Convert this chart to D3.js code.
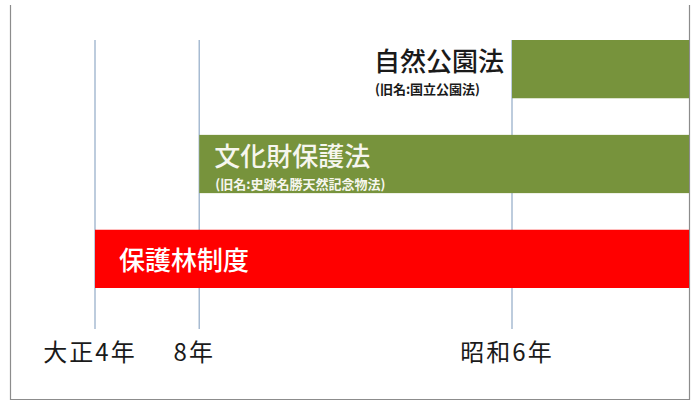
<!DOCTYPE html>
<html>
<head>
<meta charset="utf-8">
<script src="https://cdn.jsdelivr.net/npm/d3@7"></script>
<style>
  html, body { margin: 0; padding: 0; background: #fff; }
  svg { display: block; font-family: "Noto Sans CJK JP", "Noto Sans", sans-serif; }
</style>
</head>
<body>
<div id="app"></div>
<script>
// laws, top row first
const laws = ['自然公園法', '文化財保護法', '保護林制度'];
const formerNames = ['(旧名:国立公園法)', '(旧名:史跡名勝天然記念物法)', ''];
const startYears = [1931, 1919, 1915];
const barColors = ['#77933c', '#77933c', '#ff0000'];

// axis ticks (大正4年 = 1915, 大正8年 = 1919, 昭和6年 = 1931)
const tickYears = [1915, 1919, 1931];
const tickLabels = ['大正4年', '8年', '昭和6年'];

const WIDTH = 691;
const HEIGHT = 401;

const frame = { left: 10.5, right: 689.5, top: 5, bottom: 399.5 };

const svg = d3.select('#app')
  .append('svg')
  .attr('width', WIDTH)
  .attr('height', HEIGHT);

const x = d3.scaleLinear()
  .domain([1915, 1931])
  .range([95, 512]);

const y = d3.scaleBand()
  .domain(laws)
  .range([40, 288])
  .paddingInner(0.386)
  .paddingOuter(0);

const barEnd = frame.right - 0.5;

// frame (no top edge)
svg.append('path')
  .attr('d', `M${frame.left},${frame.top}V${frame.bottom}H${frame.right}V${frame.top}`)
  .attr('fill', 'none')
  .attr('stroke', '#8c8c8c')
  .attr('stroke-width', 1.2);

// year lines
svg.selectAll('line.year')
  .data(tickYears)
  .enter()
  .append('line')
  .attr('class', 'year')
  .attr('x1', d => x(d))
  .attr('x2', d => x(d))
  .attr('y1', 40)
  .attr('y2', 329)
  .attr('stroke', '#a7bbd2')
  .attr('stroke-width', 1.5);

const rows = laws.map((name, i) => ({
  name,
  former: formerNames[i],
  start: startYears[i],
  color: barColors[i]
}));

const row = svg.selectAll('g.row')
  .data(rows)
  .enter()
  .append('g')
  .attr('class', 'row');

row.append('rect')
  .attr('x', d => x(d.start))
  .attr('y', d => y(d.name))
  .attr('width', d => barEnd - x(d.start))
  .attr('height', y.bandwidth())
  .attr('fill', d => d.color);

// labels: inside the bar unless the bar starts far to the right
row.each(function(d) {
  const g = d3.select(this);
  const inside = x(d.start) < WIDTH / 2;
  const top = y(d.name);

  if (!d.former) {
    g.append('text')
      .attr('x', x(d.start) + 24)
      .attr('y', top + y.bandwidth() / 2)
      .attr('dominant-baseline', 'central')
      .attr('font-size', '26px')
      .attr('font-weight', 500)
      .attr('fill', '#ffffff')
      .text(d.name);
    return;
  }

  const main = g.append('text')
    .attr('y', top + 31)
    .attr('font-size', '26px')
    .attr('font-weight', 500)
    .attr('fill', inside ? '#f6f6ee' : '#1a1a1a')
    .text(d.name);

  let left;
  if (inside) {
    left = x(d.start) + 15;
  } else {
    left = x(d.start) - 8 - main.node().getComputedTextLength();
  }
  main.attr('x', left);

  g.append('text')
    .attr('x', left + 1)
    .attr('y', top + 54)
    .attr('font-size', '13px')
    .attr('font-weight', 'bold')
    .attr('fill', inside ? '#f6f6ee' : '#1a1a1a')
    .text(d.former);
});

// tick labels
svg.selectAll('text.tick')
  .data(tickYears)
  .enter()
  .append('text')
  .attr('class', 'tick')
  .attr('x', d => x(d) - 5)
  .attr('y', 361)
  .attr('text-anchor', 'middle')
  .attr('font-size', '24px')
  .attr('letter-spacing', '2px')
  .attr('fill', '#1a1a1a')
  .text((d, i) => tickLabels[i]);
</script>
</body>
</html>
